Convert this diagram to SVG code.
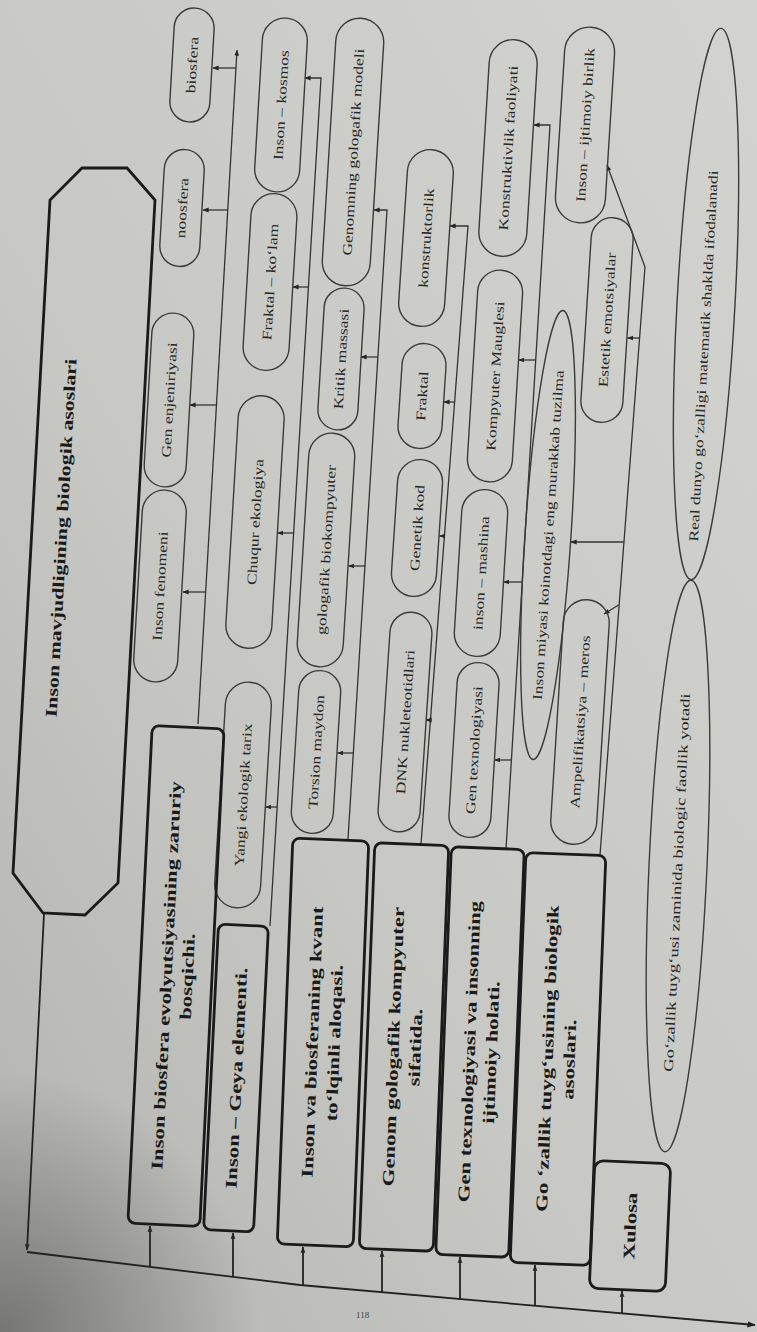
<svg xmlns="http://www.w3.org/2000/svg" width="757" height="1332" viewBox="0 0 757 1332">
<defs>
<linearGradient id="bg" x1="1" y1="0" x2="0" y2="1">
<stop offset="0" stop-color="#d3d4cf"/>
<stop offset="0.6" stop-color="#c7c8c3"/>
<stop offset="1" stop-color="#b3b4af"/>
</linearGradient>
<radialGradient id="sh" cx="0" cy="1332" r="260" gradientUnits="userSpaceOnUse">
<stop offset="0" stop-color="#6f706b" stop-opacity="0.9"/>
<stop offset="1" stop-color="#6f706b" stop-opacity="0"/>
</radialGradient>
<marker id="ah" viewBox="0 0 8 8" refX="7.5" refY="4" markerWidth="6" markerHeight="6" markerUnits="userSpaceOnUse" orient="auto">
<path d="M0,0.8 L8,4 L0,7.2 z" fill="#262626"/>
</marker>
<marker id="ahb" viewBox="0 0 8 8" refX="7.5" refY="4" markerWidth="8" markerHeight="8" markerUnits="userSpaceOnUse" orient="auto">
<path d="M0,0.8 L8,4 L0,7.2 z" fill="#1e1e1e"/>
</marker>
<style>
.ov{fill:none;stroke:#3b3b3b;stroke-width:1.4}
.bx{fill:none;stroke:#1b1b1b;stroke-width:2.8}
.ln{fill:none;stroke:#333;stroke-width:1.3}
.lb{fill:none;stroke:#222;stroke-width:1.8}
.t{font-family:"Liberation Serif",serif;font-size:13.5px;fill:#262626;text-anchor:middle;dominant-baseline:central}
.tb{font-family:"Liberation Serif",serif;font-size:16.5px;font-weight:bold;fill:#1a1a1a;text-anchor:middle;dominant-baseline:central}
.pg{font-family:"Liberation Serif",serif;font-size:9px;fill:#444}
</style>
</defs>
<rect width="757" height="1332" fill="url(#bg)"/>
<rect width="757" height="1332" fill="url(#sh)"/>

<g id="connectors">
<polyline class="ln" points="198,724 237,50" marker-end="url(#ah)"/>
<line class="ln" x1="236" y1="68" x2="213" y2="68" marker-end="url(#ah)"/>
<line class="ln" x1="228" y1="210" x2="203" y2="210" marker-end="url(#ah)"/>
<line class="ln" x1="217" y1="405" x2="190" y2="405" marker-end="url(#ah)"/>
<line class="ln" x1="206" y1="592" x2="183" y2="592" marker-end="url(#ah)"/>
<polyline class="ln" points="270,926 321,78 305,78" marker-end="url(#ah)"/>
<line class="ln" x1="308.5" y1="287" x2="293" y2="287" marker-end="url(#ah)"/>
<line class="ln" x1="293.7" y1="533" x2="277.5" y2="533" marker-end="url(#ah)"/>
<line class="ln" x1="277.3" y1="807" x2="265.5" y2="807" marker-end="url(#ah)"/>
<polyline class="ln" points="348,839 387,210 374,210" marker-end="url(#ah)"/>
<line class="ln" x1="378" y1="357" x2="361" y2="357" marker-end="url(#ah)"/>
<line class="ln" x1="365.3" y1="566" x2="348.5" y2="566" marker-end="url(#ah)"/>
<line class="ln" x1="354" y1="753" x2="337.5" y2="753" marker-end="url(#ah)"/>
<polyline class="ln" points="421,844 468,226 450,226" marker-end="url(#ah)"/>
<line class="ln" x1="455" y1="402" x2="444" y2="402" marker-end="url(#ah)"/>
<line class="ln" x1="445" y1="536" x2="439.5" y2="536" marker-end="url(#ah)"/>
<line class="ln" x1="431.4" y1="720" x2="426" y2="720" marker-end="url(#ah)"/>
<polyline class="ln" points="506,849 550,125 534,125" marker-end="url(#ah)"/>
<line class="ln" x1="535.7" y1="360" x2="518.5" y2="360" marker-end="url(#ah)"/>
<line class="ln" x1="522" y1="582" x2="503.5" y2="582" marker-end="url(#ah)"/>
<line class="ln" x1="511" y1="760" x2="494.5" y2="760" marker-end="url(#ah)"/>
<polyline class="ln" points="600,855 645,267 607,165" marker-end="url(#ah)"/>
<line class="ln" x1="639.5" y1="338" x2="627.5" y2="338" marker-end="url(#ah)"/>
<line class="ln" x1="623.5" y1="542" x2="571" y2="542" marker-end="url(#ah)"/>
<line class="ln" x1="618.6" y1="605" x2="604" y2="614" marker-end="url(#ah)"/>
<line class="lb" x1="44" y1="914" x2="27" y2="1250" marker-end="url(#ah)"/>
<polyline class="lb" points="27,1252 300,1285 755,1325" marker-end="url(#ahb)"/>
<line class="lb" x1="150" y1="1267" x2="150" y2="1226" marker-end="url(#ah)"/>
<line class="lb" x1="233" y1="1277" x2="233" y2="1233" marker-end="url(#ah)"/>
<line class="lb" x1="303" y1="1285" x2="303" y2="1247" marker-end="url(#ah)"/>
<line class="lb" x1="382" y1="1292" x2="382" y2="1251" marker-end="url(#ah)"/>
<line class="lb" x1="460" y1="1299" x2="460" y2="1257" marker-end="url(#ah)"/>
<line class="lb" x1="535" y1="1306" x2="535" y2="1265" marker-end="url(#ah)"/>
<line class="lb" x1="622" y1="1313" x2="622" y2="1291" marker-end="url(#ah)"/>
</g>

<g id="n-main">
<polygon class="bx" points="82,168 127,168 155,200 118,883 85,915 43,913 13,873 50,200"/>
<text class="tb" transform="translate(61,538) rotate(3.2) rotate(-90) scale(1.33 1)">Inson mavjudligining biologik asoslari</text>
</g>

<g id="n-biosfera" transform="translate(192,65) rotate(3.3)"><rect class="ov" x="-20" y="-57" width="40" height="114" rx="20"/><text class="t" transform="rotate(-90) scale(1.3 1)">biosfera</text></g>
<g id="n-noosfera" transform="translate(182,208) rotate(3.3)"><rect class="ov" x="-20" y="-58.5" width="40" height="117" rx="20"/><text class="t" transform="rotate(-90) scale(1.3 1)">noosfera</text></g>
<g id="n-genenj" transform="translate(169,400) rotate(3.3)"><rect class="ov" x="-21" y="-87" width="42" height="174" rx="21"/><text class="t" transform="rotate(-90) scale(1.3 1)">Gen enjeniriyasi</text></g>
<g id="n-fenomen" transform="translate(160,586) rotate(3.3)"><rect class="ov" x="-22" y="-96" width="44" height="192" rx="22"/><text class="t" transform="rotate(-90) scale(1.3 1)">Inson fenomeni</text></g>

<g id="n-kosmos" transform="translate(281,105) rotate(3.4)"><rect class="ov" x="-22.5" y="-87" width="45" height="174" rx="22.5"/><text class="t" transform="rotate(-90) scale(1.3 1)">Inson – kosmos</text></g>
<g id="n-kolam" transform="translate(270,282) rotate(3.4)"><rect class="ov" x="-23" y="-88.5" width="46" height="177" rx="23"/><text class="t" transform="rotate(-90) scale(1.3 1)">Fraktal – ko‘lam</text></g>
<g id="n-chuqur" transform="translate(255,522) rotate(3.4)"><rect class="ov" x="-23" y="-126.5" width="46" height="253" rx="23"/><text class="t" transform="rotate(-90) scale(1.3 1)">Chuqur ekologiya</text></g>
<g id="n-yangi" transform="translate(243,795) rotate(3.4)"><rect class="ov" x="-23" y="-113" width="46" height="226" rx="23"/><text class="t" transform="rotate(-90) scale(1.3 1)">Yangi ekologik tarix</text></g>

<g id="n-genmodel" transform="translate(353,152) rotate(3.5)"><rect class="ov" x="-24" y="-134" width="48" height="268" rx="24"/><text class="t" transform="rotate(-90) scale(1.3 1)">Genomning gologafik modeli</text></g>
<g id="n-kritik" transform="translate(341,359) rotate(3.5)"><rect class="ov" x="-20" y="-71" width="40" height="142" rx="20"/><text class="t" transform="rotate(-90) scale(1.3 1)">Kritik massasi</text></g>
<g id="n-biokomp" transform="translate(326,550) rotate(3.5)"><rect class="ov" x="-23" y="-117" width="46" height="234" rx="23"/><text class="t" transform="rotate(-90) scale(1.3 1)">gologafik biokompyuter</text></g>
<g id="n-torsion" transform="translate(316,752) rotate(3.5)"><rect class="ov" x="-21" y="-81.5" width="42" height="163" rx="21"/><text class="t" transform="rotate(-90) scale(1.3 1)">Torsion maydon</text></g>

<g id="n-konstr" transform="translate(426,238) rotate(3.8)"><rect class="ov" x="-23" y="-88.5" width="46" height="177" rx="23"/><text class="t" transform="rotate(-90) scale(1.3 1)">konstruktorlik</text></g>
<g id="n-fraktal" transform="translate(422,396) rotate(3.8)"><rect class="ov" x="-22" y="-52.5" width="44" height="105" rx="22"/><text class="t" transform="rotate(-90) scale(1.3 1)">Fraktal</text></g>
<g id="n-genkod" transform="translate(417,528) rotate(3.8)"><rect class="ov" x="-22.5" y="-68.5" width="45" height="137" rx="22.5"/><text class="t" transform="rotate(-90) scale(1.3 1)">Genetik kod</text></g>
<g id="n-dnk" transform="translate(405,722) rotate(3.8)"><rect class="ov" x="-21" y="-110" width="42" height="220" rx="21"/><text class="t" transform="rotate(-90) scale(1.3 1)">DNK nukleteotidlari</text></g>

<g id="n-konstrf" transform="translate(508,148) rotate(3.5)"><rect class="ov" x="-24" y="-108.5" width="48" height="217" rx="24"/><text class="t" transform="rotate(-90) scale(1.3 1)">Konstruktivlik faoliyati</text></g>
<g id="n-maugli" transform="translate(495,376) rotate(3.5)"><rect class="ov" x="-22.5" y="-106" width="45" height="212" rx="22.5"/><text class="t" transform="rotate(-90) scale(1.3 1)">Kompyuter Mauglesi</text></g>
<g id="n-mashina" transform="translate(481,573) rotate(3.5)"><rect class="ov" x="-23" y="-83.5" width="46" height="167" rx="23"/><text class="t" transform="rotate(-90) scale(1.3 1)">inson – mashina</text></g>
<g id="n-gentex" transform="translate(474,750) rotate(3.5)"><rect class="ov" x="-21" y="-87.5" width="42" height="175" rx="21"/><text class="t" transform="rotate(-90) scale(1.3 1)">Gen texnologiyasi</text></g>

<g id="n-ijtimoiy" transform="translate(585,125) rotate(3.6)"><rect class="ov" x="-25" y="-98" width="50" height="196" rx="25"/><text class="t" transform="rotate(-90) scale(1.3 1)">Inson – ijtimoiy birlik</text></g>
<g id="n-estetik" transform="translate(607,320) rotate(3.6)"><rect class="ov" x="-21" y="-102.5" width="42" height="205" rx="21"/><text class="t" transform="rotate(-90) scale(1.3 1)">Estetik emotsiyalar</text></g>
<g id="n-miya" transform="translate(548,535) rotate(3.8)"><ellipse class="ov" rx="23" ry="225"/><text class="t" transform="rotate(-90) scale(1.3 1)">Inson miyasi koinotdagi eng murakkab tuzilma</text></g>
<g id="n-ampel" transform="translate(580,722) rotate(3.6)"><rect class="ov" x="-23" y="-122.5" width="46" height="245" rx="23"/><text class="t" transform="rotate(-90) scale(1.3 1)">Ampelifikatsiya – meros</text></g>

<g id="n-real" transform="translate(706,304) rotate(3.1)"><ellipse class="ov" rx="29" ry="276"/><text class="t" x="-40" transform="rotate(-90) scale(1.3 1)">Real dunyo go‘zalligi matematik shaklda ifodalanadi</text></g>
<g id="n-gozal" transform="translate(678,866) rotate(2.6)"><ellipse class="ov" rx="29" ry="286"/><text class="t" x="-12" transform="rotate(-90) scale(1.38 1)">Go‘zallik tuyg‘usi zaminida biologic faollik yotadi</text></g>

<g id="n-box1" transform="translate(176,976) rotate(2.8)"><rect class="bx" x="-36" y="-249" width="72" height="498" rx="7"/><text class="tb" transform="rotate(-90) scale(1.38 1)"><tspan x="0" y="-10">Inson biosfera evolyutsiyasining zaruriy</tspan><tspan x="0" y="11">bosqichi.</tspan></text></g>
<g id="n-box2" transform="translate(236,1078) rotate(2.8)"><rect class="bx" x="-25" y="-153" width="50" height="306" rx="7"/><text class="tb" transform="rotate(-90) scale(1.38 1)">Inson – Geya elementi.</text></g>
<g id="n-box3" transform="translate(323,1042.5) rotate(2.2)"><rect class="bx" x="-38" y="-203" width="76" height="406" rx="7"/><text class="tb" transform="rotate(-90) scale(1.38 1)"><tspan x="0" y="-11">Inson va biosferaning  kvant</tspan><tspan x="0" y="11">to‘lqinli aloqasi.</tspan></text></g>
<g id="n-box4" transform="translate(404,1047) rotate(2.2)"><rect class="bx" x="-37" y="-203" width="74" height="406" rx="7"/><text class="tb" transform="rotate(-90) scale(1.38 1)"><tspan x="0" y="-11">Genom gologafik kompyuter</tspan><tspan x="0" y="11">sifatida.</tspan></text></g>
<g id="n-box5" transform="translate(480,1052) rotate(2.2)"><rect class="bx" x="-36.5" y="-204" width="73" height="408" rx="7"/><text class="tb" transform="rotate(-90) scale(1.38 1)"><tspan x="0" y="-11">Gen texnologiyasi va insonning</tspan><tspan x="0" y="11">ijtimoiy holati.</tspan></text></g>
<g id="n-box6" transform="translate(558,1059) rotate(2.2)"><rect class="bx" x="-40" y="-205" width="80" height="410" rx="7"/><text class="tb" transform="rotate(-90) scale(1.38 1)"><tspan x="0" y="-11">Go ‘zallik tuyg‘usining biologik</tspan><tspan x="0" y="11">asoslari.</tspan></text></g>
<g id="n-xulosa" transform="translate(630,1226) rotate(2.5)"><rect class="bx" x="-38" y="-64" width="76" height="128" rx="9"/><text class="tb" transform="rotate(-90) scale(1.38 1)">Xulosa</text></g>

<text class="pg" x="356" y="1318">118</text>
</svg>
